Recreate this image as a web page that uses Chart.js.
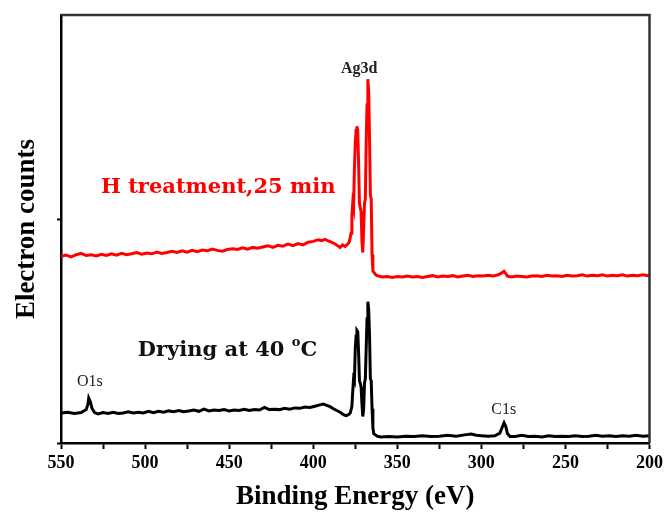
<!DOCTYPE html>
<html>
<head>
<meta charset="utf-8">
<script src="https://cdn.jsdelivr.net/npm/chart.js@4"></script>
<style>
  body { margin: 0; background: #fff; }
  #wrap { width: 667px; height: 514px; }
</style>
</head>
<body>
<div id="wrap"><canvas id="xps"></canvas></div>
<script>
// Binding energy (eV) and counts, black curve = dried sample
const dryEnergy = [550,546,542,538,535,534,533.5,532.5,531.5,530,528,525,522,519,516,513,510,507,504,501,498,495,492,489,486,483,480,477,474,471,468,465,462,459,456,453,450,447,444,441,438,435,432,429,426,423,420,417,414,411,408,405,402,399,396,394,392,390,388,386,384,382,380.5,379,378,377,376.5,376,375.5,375,374.5,374,373.5,373,372.5,372,371.5,371,370.5,370,369.5,369,368.5,368,367.5,367,366.5,366,365.5,365,364.5,364,362,360,355,350,345,340,335,330,325,320,315,310,306,303,300,296,292,289,287.5,286.5,285.5,284.5,283,280,276,272,268,264,260,256,252,248,244,240,236,232,228,224,220,216,212,208,204,200];
const dryCounts = [7.0,7.2,6.9,7.1,7.8,9.0,10.5,9.6,8.0,7.1,6.8,7.1,6.9,7.2,6.9,7.0,7.3,7.0,7.2,7.0,7.4,7.1,7.4,7.2,7.5,7.3,7.6,7.3,7.5,7.7,7.4,7.9,7.5,7.7,7.6,7.8,7.5,7.7,7.6,7.9,7.6,7.8,7.7,8.3,7.8,7.9,7.8,8.1,7.9,8.2,8.1,8.4,8.3,8.6,8.9,9.1,8.8,8.5,8.0,7.6,7.2,6.6,6.4,6.6,7.0,8.5,12,15,14.5,22,25,26.3,26,21,14.5,14,13,9,6.2,8,14,15,22,29,33,31,25,15,14.5,8,3.5,2.2,1.6,1.4,1.5,1.4,1.6,1.5,1.7,1.5,1.6,1.8,1.6,1.9,2.1,1.8,1.7,1.6,1.7,2.3,3.8,4.7,3.9,2.2,1.5,1.5,1.8,1.5,1.6,1.4,1.7,1.5,1.6,1.5,1.7,1.5,1.6,1.8,1.6,1.7,1.5,1.7,1.6,1.8,1.6,1.7];

// red curve = H treatment, 25 min
const hEnergy = [550,547,544,541,538,535,532,529,526,523,520,517,514,511,508,505,502,499,496,493,490,487,484,481,478,475,472,469,466,463,460,457,454,451,448,445,442,439,436,433,430,427,424,421,418,415,412,409,406,403,400,397,395,393,391,389,387,385,384,382.5,381,379.5,378.5,377.5,377,376.5,376,375.5,375,374.5,374,373.5,373,372.5,372,371.5,371,370.5,370,369.5,369,368.5,368,367.5,367,366.5,366,365.5,365,364.5,363,362,359,356,353,350,347,344,341,338,335,332,329,326,323,320,317,314,311,308,305,302,299,296,293,290,288,286.5,285.5,284.5,282,279,276,273,270,267,264,261,258,255,252,249,246,243,240,237,234,231,228,225,222,219,216,213,210,207,204,201,200];
const hCounts = [43.6,43.9,43.5,44.0,44.3,43.8,44.0,43.7,44.1,43.8,44.2,43.9,44.3,44.0,44.2,44.5,44.1,44.4,44.2,44.6,44.3,44.5,44.8,44.5,44.9,44.6,45.0,44.7,45.1,44.9,45.3,45.0,44.8,45.2,45.4,45.2,45.6,45.3,45.7,45.5,45.8,46.1,45.7,46.2,46.0,46.5,46.1,46.6,46.3,46.9,47.1,47.5,47.3,47.6,47.2,46.9,46.5,46.0,45.7,46.3,45.9,46.5,47.0,49,53,56,55,64,70,73,74,73,65,56,55,54,47,44.5,50,56,57,70,79,85,82,71,58,57,44,40.2,39.4,39.1,38.8,38.9,38.7,38.9,38.8,39.0,38.8,38.9,38.7,38.9,39.1,38.8,39.0,38.9,39.1,38.8,39.0,39.2,38.9,39.1,39.0,39.2,39.0,39.3,39.7,40.1,39.6,39.0,38.8,39.0,38.9,38.8,39.0,39.1,38.9,39.2,39.0,39.1,38.9,39.2,39.0,39.1,39.3,39.0,39.2,39.1,39.3,39.0,39.2,39.1,39.3,39.0,39.2,39.1,39.3,39.1,39.2];

const xTicks = [550,500,450,400,350,300,250,200];

// text placed in data coordinates
const notes = [
    { text: 'Ag3d', x: 372.7, y: 87.5, color: '#222', font: 'bold 16px "Liberation Serif"' },
    { text: 'H treatment,25 min', x: 456.5, y: 59.6, color: '#ff0000', font: 'bold 21px "DejaVu Serif"' },
    { text: 'O1s', x: 532.8, y: 14.3, color: '#222', font: '16px "Liberation Serif"' },
    { text: 'C1s', x: 286.7, y: 7.7, color: '#222', font: '16px "Liberation Serif"' }
];

function toPoints(xs, ys) {
    return xs.map((x, i) => ({ x: x, y: ys[i] }));
}

const notesPlugin = {
    id: 'notes',
    afterDatasetsDraw(chart) {
        const ctx = chart.ctx;
        const sx = chart.scales.x, sy = chart.scales.y;
        ctx.save();
        ctx.textAlign = 'center';
        ctx.textBaseline = 'middle';
        notes.forEach(n => {
            ctx.font = n.font;
            ctx.fillStyle = n.color;
            ctx.fillText(n.text, sx.getPixelForValue(n.x), sy.getPixelForValue(n.y));
        });
        // "Drying at 40 oC" with a raised o
        const px = sx.getPixelForValue(451), py = sy.getPixelForValue(21.7);
        const big = 'bold 21px "DejaVu Serif"', small = 'bold 13px "DejaVu Serif"';
        ctx.fillStyle = '#111';
        ctx.font = big;
        const a = 'Drying at 40 ';
        const wa = ctx.measureText(a).width;
        const wc = ctx.measureText('C').width;
        ctx.font = small;
        const wo = ctx.measureText('o').width;
        const left = px - (wa + wo + wc) / 2;
        ctx.textAlign = 'left';
        ctx.font = big;
        ctx.fillText(a, left, py);
        ctx.font = small;
        ctx.fillText('o', left + wa, py - 7);
        ctx.font = big;
        ctx.fillText('C', left + wa + wo, py);
        // frame round the plot
        const ar = chart.chartArea;
        ctx.strokeStyle = '#333';
        ctx.lineWidth = 2.5;
        ctx.beginPath();
        ctx.moveTo(ar.left, ar.top);
        ctx.lineTo(ar.right, ar.top);
        ctx.lineTo(ar.right, ar.bottom);
        ctx.stroke();
        ctx.restore();
    }
};

new Chart(document.getElementById('xps'), {
    type: 'line',
    data: {
        datasets: [
            {
                label: 'H treatment, 25 min',
                data: toPoints(hEnergy, hCounts),
                borderColor: '#ff0000',
                borderWidth: 3,
                pointRadius: 0,
                tension: 0
            },
            {
                label: 'Drying at 40 °C',
                data: toPoints(dryEnergy, dryCounts),
                borderColor: '#000000',
                borderWidth: 3,
                pointRadius: 0,
                tension: 0
            }
        ]
    },
    options: {
        responsive: true,
        maintainAspectRatio: false,
        animation: false,
        layout: { padding: { top: 15, right: 15, left: 0, bottom: 0 } },
        plugins: { legend: { display: false }, tooltip: { enabled: false } },
        scales: {
            x: {
                type: 'linear',
                reverse: true,
                min: 200,
                max: 550,
                afterBuildTicks: scale => {
                    const t = [];
                    for (let v = 550; v >= 200; v -= 25) t.push({ value: v });
                    scale.ticks = t;
                },
                afterFit: scale => { scale.height = 71; },
                ticks: {
                    autoSkip: false,
                    maxRotation: 0,
                    padding: 4,
                    color: '#000',
                    font: { family: 'Liberation Serif', weight: 'bold', size: 18 },
                    callback: v => xTicks.includes(v) ? String(v) : ''
                },
                grid: { drawOnChartArea: false, tickLength: 6, tickWidth: 2, color: '#000' },
                border: { color: '#000', width: 2.5 },
                title: {
                    display: true,
                    text: 'Binding Energy (eV)',
                    color: '#000',
                    font: { family: 'Liberation Serif', weight: 'bold', size: 27 },
                    padding: { top: 0, bottom: 1 }
                }
            },
            y: {
                min: 0,
                max: 100,
                afterBuildTicks: scale => { scale.ticks = [{ value: 0 }, { value: 52.3 }]; },
                afterFit: scale => { scale.width = 61; },
                ticks: { display: false },
                grid: { drawOnChartArea: false, tickLength: 4, tickWidth: 2, color: '#000' },
                border: { color: '#000', width: 2.5 },
                title: {
                    display: true,
                    text: 'Electron counts',
                    color: '#000',
                    font: { family: 'Liberation Serif', weight: 'bold', size: 27 },
                    padding: { top: 11, bottom: 0 }
                }
            }
        }
    },
    plugins: [notesPlugin]
});
</script>
</body>
</html>
